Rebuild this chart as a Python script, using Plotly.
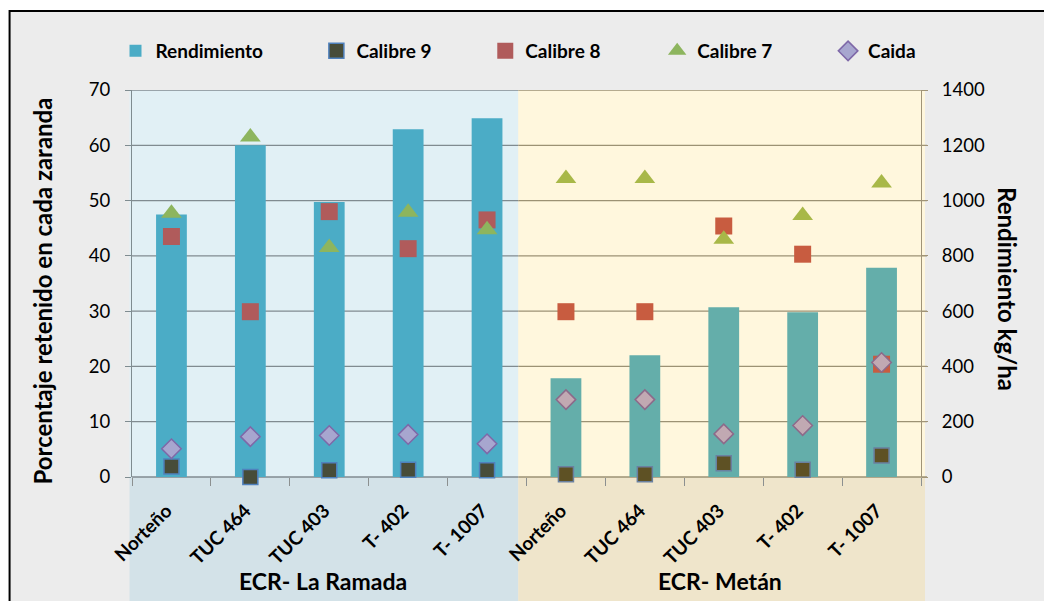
import plotly.graph_objects as go

# ---------------- data ----------------
sites = ["ECR- La Ramada", "ECR- Metán"]
cultivars = ["Norteño", "TUC 464", "TUC 403", "T- 402", "T- 1007"]

rendimiento = {  # kg/ha (right axis)
    "ECR- La Ramada": [950, 1200, 995, 1258, 1298],
    "ECR- Metán": [357, 440, 614, 596, 757],
}
calibre9 = {
    "ECR- La Ramada": [1.9, 0.0, 1.2, 1.3, 1.2],
    "ECR- Metán": [0.5, 0.5, 2.5, 1.3, 3.9],
}
calibre8 = {
    "ECR- La Ramada": [43.5, 29.9, 48.0, 41.3, 46.5],
    "ECR- Metán": [29.9, 29.9, 45.4, 40.3, 20.4],
}
calibre7 = {
    "ECR- La Ramada": [47.7, 61.5, 41.5, 47.9, 44.7],
    "ECR- Metán": [54.0, 54.0, 43.0, 47.3, 53.2],
}
caida = {
    "ECR- La Ramada": [5.1, 7.3, 7.5, 7.7, 6.0],
    "ECR- Metán": [14.0, 14.0, 7.8, 9.3, 20.7],
}
left_ticks = [0, 10, 20, 30, 40, 50, 60, 70]
right_ticks = [0, 200, 400, 600, 800, 1000, 1200, 1400]

# ---------------- styles ----------------
FONT = "Lato"
style = {
    "ECR- La Ramada": dict(
        bar="#4BACC6", c9="#474C39", c9line="#4F81BD", c8="#B05B5B",
        c7="#8DB55E", cd="#A7A6CF", cdline="#7E68A8",
        bg="#E1F0F5", bgb="#D3E2E8", grid="#808B90"),
    "ECR- Metán": dict(
        bar="#64AEAA", c9="#5E5124", c9line="#6A80A0", c8="#C85C40",
        c7="#A8B848", cd="#C1A9B2", cdline="#8C6A8A",
        bg="#FFF7DD", bgb="#EFE5CB", grid="#9C9274"),
}

ids = {s: [f"{s}|{c}" for c in cultivars] for s in sites}
all_ids = ids[sites[0]] + ids[sites[1]]

# screen geometry (page has an 8px body margin)
OX, OY = 8, 8
W, H = 1044, 593
ml, mt = 123.5, 82
pw, ph = 789.5, 387
mr = W - ml - pw
mb = H - mt - ph


def sx(p):  # screen x pixel -> paper
    return (p - OX - ml) / pw


def sy(p):  # screen y pixel -> paper
    return (OY + mt + ph - p) / ph


legend_marker_x = [139, 340, 509, 681, 852]
legend_names = ["legend", "legend2", "legend3", "legend4", "legend5"]

fig = go.Figure()

# bars on the (right-side) primary axis
for i, s in enumerate(sites):
    st = style[s]
    fig.add_trace(go.Bar(
        x=ids[s], y=rendimiento[s], name="Rendimiento", legendgroup="rend",
        legend=legend_names[0],
        showlegend=(i == 0), marker=dict(color=st["bar"], line=dict(width=0)),
        width=0.39, yaxis="y"))

series = [
    ("Calibre 9", calibre9, "square", 15, "c9", "c9line", 1.5),
    ("Calibre 8", calibre8, "square", 17, "c8", None, 0),
    ("Calibre 7", calibre7, "triangle-up", 18, "c7", None, 0),
    ("Caida", caida, "diamond", 15, "cd", "cdline", 1.5),
]
for k, (name, data, sym, size, ck, lk, lw) in enumerate(series):
    for i, s in enumerate(sites):
        st = style[s]
        fig.add_trace(go.Scatter(
            x=ids[s], y=data[s], mode="markers", name=name, legendgroup=name,
            legend=legend_names[k + 1], cliponaxis=False,
            showlegend=(i == 0), yaxis="y2",
            marker=dict(symbol=sym, size=size, color=st[ck],
                        line=dict(width=lw, color=st[lk] if lk else st[ck]))))

# ---------------- background shapes ----------------
shapes = [
    dict(type="rect", xref="paper", yref="paper", x0=sx(9), x1=sx(1100),
         y0=sy(700), y1=sy(11), fillcolor="#ECECEC",
         line=dict(color="#000000", width=2), layer="below"),
]
split = sx(518)
regions = [("ECR- La Ramada", sx(129), split), ("ECR- Metán", split, sx(925))]
for s, x0, x1 in regions:
    st = style[s]
    shapes.append(dict(type="rect", xref="paper", yref="paper", x0=x0, x1=x1,
                       y0=0, y1=1, fillcolor=st["bg"], line=dict(width=0), layer="below"))
    shapes.append(dict(type="rect", xref="paper", yref="paper", x0=x0, x1=x1,
                       y0=sy(700), y1=0, fillcolor=st["bgb"], line=dict(width=0), layer="below"))
# gridlines per region
for s, x0, x1 in [("ECR- La Ramada", 0, split), ("ECR- Metán", split, 1 + 6 / pw)]:
    st = style[s]
    for t in left_ticks[1:]:
        shapes.append(dict(type="line", xref="paper", yref="y2", x0=x0, x1=x1,
                           y0=t, y1=t, line=dict(color=st["grid"], width=1.3), layer="below"))
    shapes.append(dict(type="line", xref="paper", yref="paper", x0=x0, x1=x1,
                       y0=0, y1=0, line=dict(color=st["grid"], width=1.3), layer="below"))

annotations = [
    dict(text="<b>ECR- La Ramada</b>", xref="x", yref="paper", x=2, y=sy(581),
         xshift=-6, xanchor="center", yanchor="middle",
         showarrow=False, font=dict(family=FONT, size=23, color="#000")),
    dict(text="<b>ECR- Metán</b>", xref="x", yref="paper", x=7, y=sy(581),
         xshift=-4, xanchor="center", yanchor="middle",
         showarrow=False, font=dict(family=FONT, size=23, color="#000")),
    dict(text="<b>Porcentaje retenido en cada zaranda</b>", xref="paper", yref="paper",
         x=sx(41), y=sy(291), textangle=-90, showarrow=False,
         xanchor="center", yanchor="middle",
         font=dict(family=FONT, size=24, color="#000")),
    dict(text="<b>Rendimiento kg/ha</b>", xref="paper", yref="paper",
         x=sx(1008), y=sy(289), textangle=90, showarrow=False,
         xanchor="center", yanchor="middle",
         font=dict(family=FONT, size=24, color="#000")),
]

legend_common = dict(orientation="h", xanchor="left", y=sy(51), yanchor="middle",
                     bgcolor="rgba(0,0,0,0)",
                     font=dict(family=FONT, size=19, color="#000", weight="bold"),
                     itemclick=False)
legends = {}
for nm, mx in zip(legend_names, legend_marker_x):
    legends[nm] = dict(legend_common, x=sx(mx - 24))

fig.update_layout(
    width=W, height=H,
    margin=dict(l=ml, r=mr, t=mt, b=mb, pad=0),
    paper_bgcolor="#FFFFFF", plot_bgcolor="rgba(0,0,0,0)",
    font=dict(family=FONT, color="#000"),
    barmode="overlay",
    shapes=shapes, annotations=annotations,
    showlegend=True,
    **legends,
    xaxis=dict(type="category", categoryorder="array", categoryarray=all_ids,
               tickmode="array", tickvals=all_ids, ticktext=cultivars + cultivars,
               tickangle=-45, tickson="boundaries", ticks="outside", ticklen=8,
               tickcolor="#8C9090", tickwidth=1.3, showgrid=False, showline=False,
               zeroline=False, range=[-0.5, 9.5],
               ticklabelstandoff=18, ticklabelshift=-5,
               tickfont=dict(family=FONT, size=19, color="#000", weight="bold")),
    yaxis=dict(side="right", range=[0, 1400], tickvals=right_ticks, showgrid=False,
               zeroline=False, showline=True, linecolor="#A09478", linewidth=1.3,
               ticks="outside", ticklen=6, tickcolor="#A09478", tickwidth=1.3,
               ticklabelstandoff=10,
               tickfont=dict(family=FONT, size=18.5, color="#000")),
    yaxis2=dict(side="left", overlaying="y", range=[0, 70], tickvals=left_ticks,
                showgrid=False, zeroline=False, showline=True, linecolor="#7F8C90",
                linewidth=1.3, ticks="outside", ticklen=6, tickcolor="#7F8C90",
                tickwidth=1.3, ticklabelstandoff=11,
                tickfont=dict(family=FONT, size=18.5, color="#000")),
)

fig.write_html("out.html")
